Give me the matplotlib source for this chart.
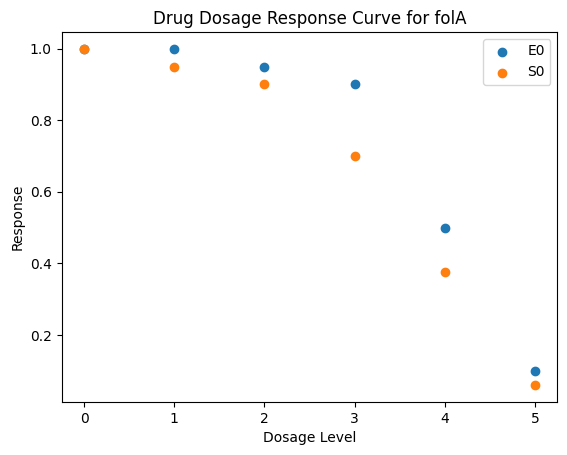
import matplotlib
matplotlib.use('Agg')
import matplotlib.pyplot as plt

dosage = [0, 1, 2, 3, 4, 5]
e0_response = [1.0, 1.0, 0.95, 0.9, 0.5, 0.1]
s0_response = [1.0, 0.95, 0.9, 0.7, 0.375, 0.06]

fig = plt.figure(figsize=(5.67, 4.55), dpi=100)
fig.subplots_adjust(left=0.1085, right=0.983, top=0.93, bottom=0.1165)
ax = fig.add_subplot(111)
ax.scatter(dosage, e0_response, label='E0')
ax.scatter(dosage, s0_response, label='S0')
ax.set_xlabel('Dosage Level')
ax.set_ylabel('Response')
ax.set_title('Drug Dosage Response Curve for folA')
ax.legend()
fig.savefig('out.png', dpi=100)
